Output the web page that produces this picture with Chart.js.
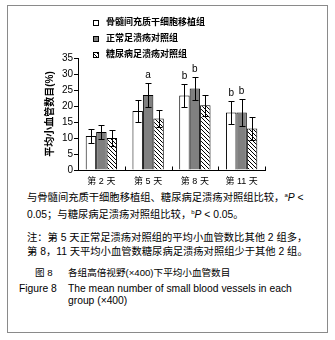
<!DOCTYPE html>
<html><head><meta charset="utf-8">
<script src="https://cdn.jsdelivr.net/npm/chart.js@4"></script>
<style>
html,body{margin:0;padding:0;background:#fff;}
body{width:335px;height:340px;position:relative;overflow:hidden;font-family:"Liberation Sans","Noto Sans CJK SC",sans-serif;color:#000;}
#frame{position:absolute;left:7px;top:5px;width:319px;height:326px;border:1px solid #8a8a8a;}
#wrap{position:absolute;left:0;top:0;width:335px;height:190px;}
.t{position:absolute;white-space:nowrap;font-size:10.3px;line-height:12px;}
sup{font-size:6px;vertical-align:4px;line-height:0;}
i{font-style:italic;}
</style></head><body>
<div id="frame"></div>
<div id="wrap"><canvas id="c" width="335" height="190"></canvas></div>
<div class="t" style="left:27px;top:192px;">与骨髓间充质干细胞移植组、糖尿病足溃疡对照组比较，<sup>a</sup><i>P</i> &lt;</div>
<div class="t" style="left:27px;top:209px;">0.05；与糖尿病足溃疡对照组比较，<sup>b</sup><i>P</i> &lt; 0.05。</div>
<div class="t" style="left:27px;top:232px;">注：第 5 天正常足溃疡对照组的平均小血管数比其他 2 组多，</div>
<div class="t" style="left:27px;top:246px;">第 8，11 天平均小血管数糖尿病足溃疡对照组少于其他 2 组。</div>
<div class="t" style="left:35px;top:267px;font-size:9.6px;">图 8</div>
<div class="t" style="left:68px;top:267px;font-size:9.6px;">各组高倍视野(×400)下平均小血管数目</div>
<div class="t" style="left:19px;top:283px;">Figure 8</div>
<div class="t" style="left:68px;top:283px;">The mean number of small blood vessels in each</div>
<div class="t" style="left:68px;top:295px;">group (×400)</div>
<script>
const categories = ["第 2 天", "第 5 天", "第 8 天", "第 11 天"];
const seriesNames = ["骨髓间充质干细胞移植组", "正常足溃疡对照组", "糖尿病足溃疡对照组"];
const msc = [10.6, 18.4, 23.3, 18.0];
const normal = [11.9, 23.4, 25.5, 18.0];
const diabetic = [10.0, 16.1, 20.2, 13.0];
const mscErr = [2.3, 3.5, 3.7, 3.5];
const normalErr = [2.1, 3.7, 3.5, 4.3];
const diabeticErr = [2.4, 2.8, 3.2, 3.6];
const mscMarks = ["", "", "b", "b"];
const normalMarks = ["", "a", "b", "b"];
const diabeticMarks = ["", "", "", ""];
const yTicks = [0, 5, 10, 15, 20, 25, 30, 35];

function hatch() {
  const p = document.createElement('canvas');
  p.width = 4; p.height = 4;
  const g = p.getContext('2d');
  g.fillStyle = '#fff'; g.fillRect(0, 0, 4, 4);
  g.strokeStyle = '#000'; g.lineWidth = 1;
  g.beginPath();
  g.moveTo(-1, -1); g.lineTo(5, 5);
  g.moveTo(-1, 3); g.lineTo(1, 5);
  g.moveTo(3, -1); g.lineTo(5, 1);
  g.stroke();
  return g.createPattern(p, 'repeat');
}
const hatchFill = hatch();
const FONT = '"Liberation Sans","Noto Sans CJK SC",sans-serif';

const errs = [mscErr, normalErr, diabeticErr];
const marks = [mscMarks, normalMarks, diabeticMarks];

const errorPlugin = {
  id: 'errs',
  afterDatasetsDraw(chart) {
    const ctx = chart.ctx, y = chart.scales.y;
    ctx.save();
    ctx.strokeStyle = '#000'; ctx.lineWidth = 1;
    ctx.fillStyle = '#000';
    ctx.font = '10px ' + FONT;
    ctx.textAlign = 'center'; ctx.textBaseline = 'bottom';
    chart.data.datasets.forEach((ds, di) => {
      const meta = chart.getDatasetMeta(di);
      meta.data.forEach((bar, i) => {
        const v = ds.data[i], e = errs[di][i];
        const x = Math.round(bar.x) + 0.5;
        const yt = Math.round(y.getPixelForValue(v + e)) + 0.5;
        const yb = Math.round(y.getPixelForValue(v - e)) + 0.5;
        ctx.beginPath();
        ctx.moveTo(x, yt); ctx.lineTo(x, yb);
        ctx.moveTo(x - 3, yt); ctx.lineTo(x + 3, yt);
        ctx.moveTo(x - 3, yb); ctx.lineTo(x + 3, yb);
        ctx.stroke();
        if (marks[di][i]) ctx.fillText(marks[di][i], bar.x, yt - 3);
      });
    });
    // inward category-boundary ticks on the x axis
    const xs = chart.scales.x;
    const half = (xs.getPixelForValue(1) - xs.getPixelForValue(0)) / 2;
    const yb0 = Math.round(xs.top) + 0.5;
    ctx.beginPath();
    for (let i = 0; i < categories.length; i++) {
      const bx = Math.round(xs.getPixelForValue(i) + half) + 0.5;
      ctx.moveTo(bx, yb0); ctx.lineTo(bx, yb0 - 4);
    }
    ctx.stroke();
    ctx.restore();
  }
};

const legendPlugin = {
  id: 'customLegend',
  afterDraw(chart) {
    const ctx = chart.ctx;
    ctx.save();
    ctx.font = 'bold 9px ' + FONT;
    ctx.textBaseline = 'middle'; ctx.textAlign = 'left';
    chart.data.datasets.forEach((ds, i) => {
      const cy = 23 + i * 16;
      ctx.fillStyle = ds.backgroundColor;
      ctx.fillRect(93, cy - 3, 6, 6);
      ctx.strokeStyle = '#000'; ctx.lineWidth = 1;
      ctx.strokeRect(93.5, cy - 2.5, 5, 5);
      ctx.fillStyle = '#000';
      ctx.fillText(ds.label, 106, cy);
    });
    ctx.restore();
  }
};

new Chart(document.getElementById('c'), {
  type: 'bar',
  data: {
    labels: categories,
    datasets: [
      { label: seriesNames[0], data: msc, backgroundColor: '#ffffff', borderColor: '#000', borderWidth: 1 },
      { label: seriesNames[1], data: normal, backgroundColor: '#808080', borderColor: '#000', borderWidth: 1 },
      { label: seriesNames[2], data: diabetic, backgroundColor: hatchFill, borderColor: '#000', borderWidth: 1 }
    ]
  },
  options: {
    responsive: false,
    animation: false,
    devicePixelRatio: 1,
    layout: { padding: { left: 38, right: 70, top: 58, bottom: 0 } },
    datasets: { bar: { categoryPercentage: 0.67, barPercentage: 1.0 } },
    plugins: { legend: { display: false }, tooltip: { enabled: false } },
    scales: {
      x: {
        grid: { offset: true, display: true, drawOnChartArea: false, drawTicks: false, color: '#000' },
        border: { color: '#000', width: 1 },
        ticks: { color: '#000', font: { size: 9, family: FONT }, padding: 6 },
        afterFit(s) { s.height = 20; }
      },
      y: {
        min: 0, max: 35,
        afterBuildTicks(s) { s.ticks = yTicks.map(v => ({ value: v })); },
        grid: { drawOnChartArea: false, drawTicks: true, tickLength: 4, color: '#000' },
        border: { color: '#000', width: 1 },
        ticks: { color: '#000', font: { size: 10, family: FONT }, padding: 1 },
        title: { display: true, text: '平均小血管数目(%)', color: '#000', font: { size: 10, weight: 'bold', family: FONT }, padding: { top: 6, bottom: 0 } },
        afterFit(s) { s.width = 40; }
      }
    }
  },
  plugins: [errorPlugin, legendPlugin]
});
</script>
</body></html>
